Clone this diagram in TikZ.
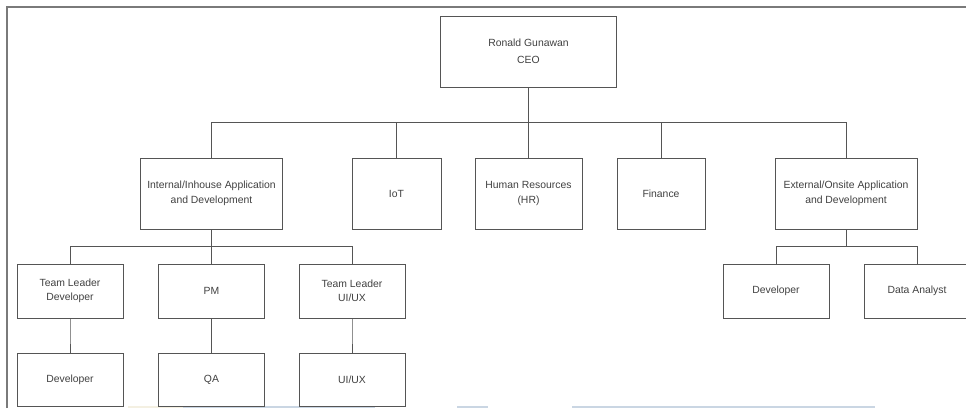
\documentclass[tikz,border=0pt]{standalone}
\usepackage{fontspec}
\setmainfont{Liberation Sans}
\usetikzlibrary{calc,positioning}
\definecolor{boxline}{HTML}{555555}
\definecolor{frameline}{HTML}{7A7A7A}
\definecolor{boxtext}{HTML}{404040}
\definecolor{stripblue}{HTML}{CAD6E3}
\definecolor{stripcream}{HTML}{F4F0E2}

\begin{document}
\begin{tikzpicture}
	[x=1pt,y=-1pt,every node/.style={shape=rectangle,draw=boxline,line width=0.8pt,
		text=boxtext,align=center,inner sep=2pt,font=\fontsize{10.4}{14.5}\selectfont,
		minimum width=106pt,minimum height=54pt},
	dept/.style={minimum height=71pt},
	orgline/.style={draw=boxline,line width=0.8pt,
		to path={|- ($(\tikztostart)!.5!(\tikztotarget)$) -| (\tikztotarget)}}]
	\useasboundingbox (0,0) rectangle (966,408);

	% page edge and screenshot strips
	\draw[frameline,line width=2pt] (7,408) -- (7,7) -- (966,7);
	\fill[stripcream] (128,405.5) rectangle (183,408);
	\fill[stripblue] (183,405.5) rectangle (375,408);
	\fill[stripblue] (457,405.5) rectangle (488,408);
	\fill[stripblue] (572,405.5) rectangle (875,408);

	\node[dept,minimum width=176pt] (ceo) at (528.5,51.5) {Ronald Gunawan\\[2pt]CEO};

	\node[dept,minimum width=142pt] (intdev) at (211.5,193.5) {Internal/Inhouse Application\\and Development};
	\node[dept,minimum width=89pt] (iot) at (396.5,193.5) {IoT};
	\node[dept,minimum width=107pt] (hr) at (528.5,193.5) {Human Resources\\(HR)};
	\node[dept,minimum width=88pt] (fin) at (661,193.5) {Finance};
	\node[dept,minimum width=142pt] (extdev) at (846,193.5) {External/Onsite Application\\and Development};

	\node (tldev) at (70,291) {Team Leader\\Developer};
	\node (pm) at (211.5,291) {PM};
	\node (tlui) at (352,291) {Team Leader\\UI/UX};
	\node (extcoder) at (776,291) {Developer};
	\node (analyst) at (917,291) {Data Analyst};

	\node[minimum height=53pt] (coder) at (70,379.5) {Developer};
	\node[minimum height=53pt] (qa) at (211.5,379.5) {QA};
	\node[minimum height=53pt] (uiux) at (352,379.5) {UI/UX};

	\path
	\foreach \startNode/\endNode in {ceo/intdev,ceo/iot,ceo/hr,ceo/fin,ceo/extdev,
		intdev/tldev,intdev/pm,intdev/tlui,extdev/extcoder,extdev/analyst,
		tldev/coder,pm/qa,tlui/uiux}{
		(\startNode.south) edge[orgline] (\endNode.north)
	};
\end{tikzpicture}
\end{document}
